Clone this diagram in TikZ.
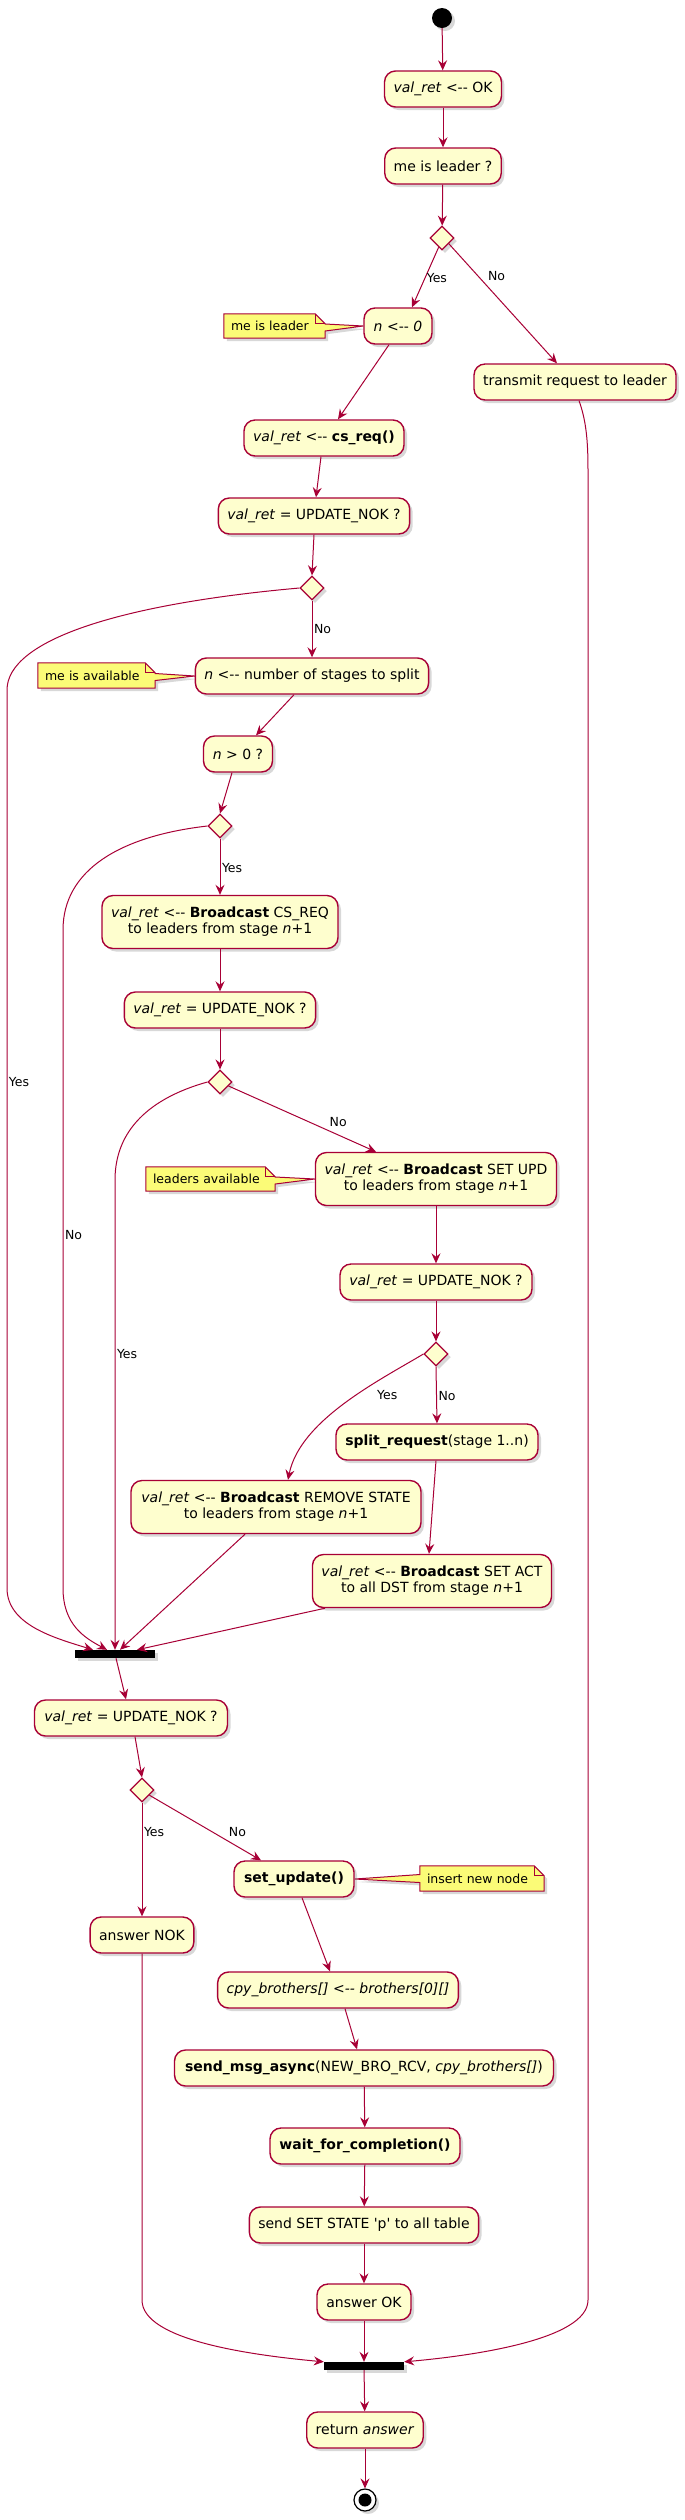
\documentclass[tikz,border=0pt]{standalone}
\usepackage{fontspec}
\setmainfont{DejaVu Sans}
\usetikzlibrary{arrows.meta,shapes.geometric,shadows}
\definecolor{pborder}{HTML}{A80036}
\definecolor{pfill}{HTML}{FEFECE}
\definecolor{nfill}{HTML}{FBFB77}
\pgfdeclarelayer{back}
\pgfsetlayers{back,main}
\tikzset{
  shad/.style={drop shadow={shadow xshift=3pt,shadow yshift=-3pt,opacity=0.3}},
  act/.style={draw=pborder, fill=pfill, line width=1.4pt, rounded corners=11pt,
    minimum height=36pt, inner xsep=9pt, inner ysep=3pt,
    font=\fontsize{14}{16}\selectfont, align=center, shad},
  act2/.style={act, minimum height=53pt},
  dec/.style={diamond, aspect=1, draw=pborder, fill=pfill, line width=1.2pt,
    minimum width=24pt, minimum height=24pt, inner sep=0pt, shad},
  joinbar/.style={fill=black, minimum width=80pt, minimum height=8pt, inner sep=0pt, shad},
  flow/.style={draw=pborder, line width=1pt, -{Stealth[length=10pt,width=9pt,inset=3.5pt]}},
  lbl/.style={font=\fontsize{12.5}{15}\selectfont, inner sep=1.5pt},
  notetext/.style={font=\fontsize{12.5}{15}\selectfont, inner sep=0pt, align=left},
  notebody/.style={draw=pborder, fill=nfill, line width=1pt, shad},
  notefold/.style={draw=pborder, line width=1pt},
}
\begin{document}
\begin{tikzpicture}[x=1pt,y=-1pt]
\useasboundingbox (0,0) rectangle (685,2520);
\begin{pgfonlayer}{back}
\fill[white] (0,0) rectangle (685,2520);
\end{pgfonlayer}

% ---- nodes
\node[circle, fill=black, minimum size=20pt, inner sep=0pt, shad] (start) at (442,18) {};
\node[act, minimum width=116pt] (ok) at (443,89) {\textit{val\_ret} <-{}- OK};
\node[act, minimum width=116pt] (leader) at (443,166) {me is leader ?};
\node[dec] (d1) at (442,238) {};
\node[act, minimum width=68pt] (n0) at (398,326) {\textit{n} <-{}- \textit{0}};
\node[act, minimum width=200pt] (transmit) at (575,382) {transmit request to leader};
\node[act, minimum width=160pt] (csreq) at (324,438) {\textit{val\_ret} <-{}- \textbf{cs\_req()}};
\node[act, minimum width=191pt] (nok1) at (314,516) {\textit{val\_ret} = UPDATE\_NOK ?};
\node[dec] (d2) at (312,588) {};
\node[act, minimum width=233pt] (nsplit) at (312,676) {\textit{n} <-{}- number of stages to split};
\node[act, minimum width=69pt] (ngt) at (238,754) {\textit{n} > 0 ?};
\node[dec] (d3) at (220,826) {};
\node[act2, minimum width=236pt] (bcsreq) at (220,922) {\textit{val\_ret} <-{}- \textbf{Broadcast} CS\_REQ\\to leaders from stage \textit{n}+1};
\node[act, minimum width=191pt] (nok2) at (220,1010) {\textit{val\_ret} = UPDATE\_NOK ?};
\node[dec] (d4) at (220,1082) {};
\node[act2, minimum width=241pt] (bsetupd) at (436,1179) {\textit{val\_ret} <-{}- \textbf{Broadcast} SET UPD\\to leaders from stage \textit{n}+1};
\node[act, minimum width=192pt] (nok3) at (436,1282) {\textit{val\_ret} = UPDATE\_NOK ?};
\node[dec] (d5) at (436,1354) {};
\node[act, minimum width=202pt] (split) at (437,1442) {\textbf{split\_request}(stage 1..n)};
\node[act2, minimum width=290pt] (bremove) at (276,1507) {\textit{val\_ret} <-{}- \textbf{Broadcast} REMOVE STATE\\to leaders from stage \textit{n}+1};
\node[act2, minimum width=239pt] (bsetact) at (432,1581) {\textit{val\_ret} <-{}- \textbf{Broadcast} SET ACT\\to all DST from stage \textit{n}+1};
\node[joinbar] (join1) at (115,1654) {};
\node[act, minimum width=193pt] (nok4) at (131,1718) {\textit{val\_ret} = UPDATE\_NOK ?};
\node[dec] (d6) at (142,1790) {};
\node[act, minimum width=120pt] (setupdate) at (294,1879) {\textbf{set\_update()}};
\node[act, minimum width=103pt] (answernok) at (142,1935) {answer NOK};
\node[act, minimum width=239pt] (cpy) at (338,1990) {\textit{cpy\_brothers[] <-{}- brothers[0][]}};
\node[act, minimum width=379pt] (send) at (364,2068) {\textbf{send\_msg\_async}(NEW\_BRO\_RCV, \textit{cpy\_brothers[]})};
\node[act, minimum width=190pt] (wait) at (365,2146) {\textbf{wait\_for\_completion()}};
\node[act, minimum width=229pt] (sendset) at (364,2225) {send SET STATE \textquotesingle p\textquotesingle{} to all table};
\node[act, minimum width=94pt] (answerok) at (364,2302) {answer OK};
\node[joinbar] (join2) at (364,2366) {};
\node[act, minimum width=116pt] (ret) at (365,2430) {return \textit{answer}};
\node[circle, draw=black, line width=1.2pt, fill=white, minimum size=22pt, inner sep=0pt, shad] (stop) at (365,2500) {};
\node[circle, fill=black, minimum size=13pt, inner sep=0pt] (stopin) at (stop) {};

% ---- notes
\node[notetext, minimum width=101pt, minimum height=24pt, text width=87pt] (note1) at (274.5,326) {me is leader};
\node[notetext, minimum width=117pt, minimum height=25pt, text width=103pt] (note2) at (96.5,675.5) {me is available};
\node[notetext, minimum width=129pt, minimum height=24pt, text width=115pt] (note3) at (210.5,1179) {leaders available};
\node[notetext, minimum width=124pt, minimum height=25pt, text width=110pt] (note4) at (482,1878.5) {insert new node};
\begin{pgfonlayer}{back}
\foreach \nt/\bx in {note1/n0, note2/nsplit, note3/bsetupd}{
  \draw[notebody] (\nt.north west) -- ([xshift=-10pt]\nt.north east) -- ([yshift=-10pt]\nt.north east)
    -- ([yshift=2pt]\nt.east) -- (\bx.west) -- ([yshift=-5pt]\nt.east) -- (\nt.south east) -- (\nt.south west) -- cycle;
  \draw[notefold] ([xshift=-10pt]\nt.north east) -- ([xshift=-10pt,yshift=-10pt]\nt.north east) -- ([yshift=-10pt]\nt.north east);
}
\draw[notebody] (note4.north west) -- ([xshift=-10pt]note4.north east) -- ([yshift=-10pt]note4.north east)
  -- (note4.south east) -- (note4.south west) -- ([yshift=-4pt]note4.west) -- (setupdate.east) -- ([yshift=4pt]note4.west) -- cycle;
\draw[notefold] ([xshift=-10pt]note4.north east) -- ([xshift=-10pt,yshift=-10pt]note4.north east) -- ([yshift=-10pt]note4.north east);
\end{pgfonlayer}

% ---- connectors
\draw[flow] (start) -- (ok);
\draw[flow] (ok) -- (leader);
\draw[flow] (leader) -- (d1);
\draw[flow] (d1.-110) -- node[lbl, right, pos=0.52]{Yes} ([xshift=14pt]n0.north);
\draw[flow] (d1.-40) -- node[lbl, pos=0.27, anchor=west, xshift=8pt]{No} ([xshift=-18pt]transmit.north);
\draw[flow] ([xshift=-9pt]n0.south) -- ([xshift=14pt]csreq.north);
\draw[flow] ([xshift=-3pt]csreq.south) -- ([xshift=2pt]nok1.north);
\draw[flow] (nok1.south) -- (d2.north);
\draw[flow] (d2.south) -- node[lbl, right, pos=0.5]{No} (nsplit.north);
\draw[flow] (d2.west) .. controls (120,604) and (7,640) .. (7,690)
  -- node[lbl, right, pos=0.437]{Yes} (7,1588)
  .. controls (7,1625) and (55,1638) .. ([xshift=-22pt]join1.north);
\draw[flow] ([xshift=4pt]transmit.south) .. controls (586,420) and (588,440) .. (588,470)
  -- (588,2300) .. controls (588,2340) and (470,2356) .. (join2.north east);
\draw[flow] ([xshift=-18pt]nsplit.south) -- ([xshift=18pt]ngt.north);
\draw[flow] ([xshift=-6pt]ngt.south) -- (d3.north);
\draw[flow] (d3.south) -- node[lbl, right, pos=0.52]{Yes} (bcsreq.north);
\draw[flow] (d3.west) .. controls (120,836) and (63,870) .. (63,930)
  -- node[lbl, right, pos=0.464]{No} (63,1588)
  .. controls (63,1625) and (85,1638) .. ([xshift=-8pt]join1.north);
\draw[flow] (bcsreq.south) -- (nok2.north);
\draw[flow] (nok2.south) -- (d4.north);
\draw[flow] (d4.west) .. controls (150,1098) and (115,1130) .. (115,1180)
  -- node[lbl, right, pos=0.37]{Yes} (join1.north);
\draw[flow] (d4.-25) -- node[lbl, pos=0.55, anchor=west, xshift=18pt]{No} ([xshift=-60pt]bsetupd.north);
\draw[flow] (bsetupd.south) -- (nok3.north);
\draw[flow] (nok3.south) -- (d5.north);
\draw[flow] (d5.south) -- node[lbl, right, pos=0.52]{No} (split.north);
\draw[flow] (d5.west) .. controls (380,1380) and (300,1420) .. node[lbl, pos=0.42, anchor=west, xshift=18pt]{Yes} ([xshift=12pt]bremove.north);
\draw[flow] ([xshift=-1pt]split.south) -- ([xshift=-3pt]bsetact.north);
\draw[flow] ([xshift=-31pt]bremove.south) -- ([xshift=5pt]join1.north);
\draw[flow] ([xshift=-107pt]bsetact.south) -- ([xshift=22pt]join1.north);
\draw[flow] ([xshift=1pt]join1.south) -- ([xshift=-5pt]nok4.north);
\draw[flow] ([xshift=4pt]nok4.south) -- (d6.north);
\draw[flow] (d6.south) -- node[lbl, right, pos=0.26]{Yes} (answernok.north);
\draw[flow] (d6.-35) -- node[lbl, pos=0.56, anchor=west, xshift=15pt]{No} ([xshift=-33pt]setupdate.north);
\draw[flow] ([xshift=8pt]setupdate.south) -- ([xshift=-8pt]cpy.north);
\draw[flow] ([xshift=7pt]cpy.south) -- ([xshift=-7pt]send.north);
\draw[flow] (send) -- (wait);
\draw[flow] (wait) -- (sendset);
\draw[flow] (sendset) -- (answerok);
\draw[flow] (answerok) -- (join2);
\draw[flow] (answernok.south) -- (142,2300) .. controls (142,2340) and (250,2355) .. (join2.north west);
\draw[flow] (join2) -- (ret);
\draw[flow] (ret) -- (stop);
\end{tikzpicture}
\end{document}
